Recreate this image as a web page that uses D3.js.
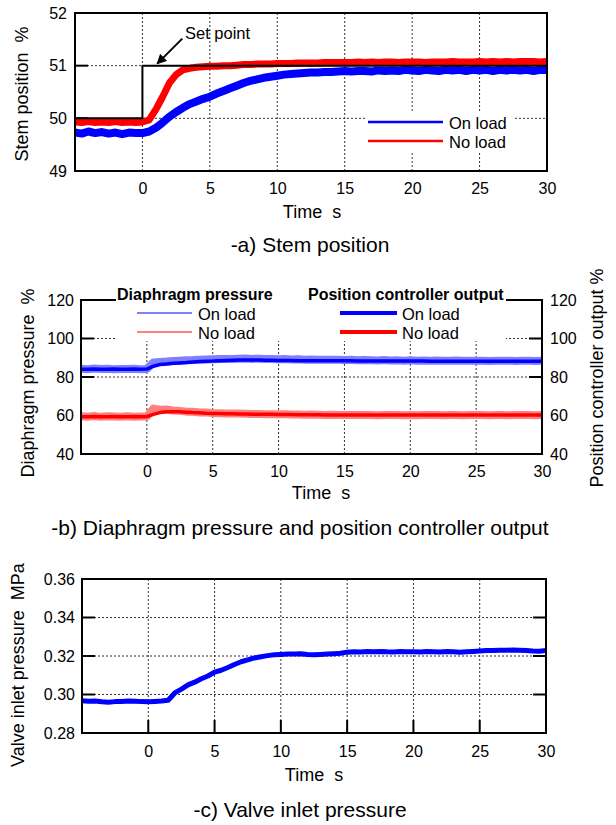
<!DOCTYPE html>
<html><head><meta charset="utf-8">
<script src="https://cdn.jsdelivr.net/npm/d3@7"></script>
<style>
body{margin:0;background:#fff}
svg text{font-family:"Liberation Sans",Arial,sans-serif;fill:#000}
</style>
</head><body><svg id="c" width="616" height="825"></svg>
<script>
// ---------- DATA ----------
const time = [-5,-4.5,-4,-3.5,-3,-2.5,-2,-1.5,-1,-0.5,
  0,0.5,1,1.5,2,2.5,3,3.5,4,4.5,
  5,5.5,6,6.5,7,7.5,8,8.5,9,9.5,
  10,10.5,11,11.5,12,12.5,13,13.5,14,14.5,
  15,15.5,16,16.5,17,17.5,18,18.5,19,19.5,
  20,20.5,21,21.5,22,22.5,23,23.5,24,24.5,
  25,25.5,26,26.5,27,27.5,28,28.5,29,29.5,30];
const xTicks = [0,5,10,15,20,25,30];

// (a) Stem position %
const stemTicks = [49,50,51,52];
const stemOnLoad = [49.73,49.71,49.75,49.72,49.74,49.71,49.73,49.70,49.73,49.72,
  49.72,49.75,49.82,49.92,50.03,50.12,50.20,50.27,50.32,50.37,
  50.41,50.47,50.52,50.57,50.62,50.67,50.71,50.74,50.77,50.79,
  50.81,50.83,50.84,50.85,50.86,50.87,50.87,50.88,50.88,50.89,
  50.90,50.89,50.90,50.90,50.89,50.91,50.90,50.91,50.90,50.92,
  50.91,50.90,50.92,50.91,50.90,50.92,50.91,50.92,50.90,50.92,
  50.91,50.92,50.90,50.92,50.91,50.92,50.91,50.92,50.90,50.92,50.92];
const stemNoLoad = [49.93,49.92,49.94,49.92,49.93,49.92,49.94,49.92,49.93,49.92,
  49.93,49.97,50.17,50.41,50.67,50.83,50.92,50.95,50.97,50.98,
  50.99,50.99,51.00,51.00,51.01,51.02,51.02,51.03,51.03,51.03,
  51.04,51.04,51.04,51.05,51.05,51.05,51.05,51.06,51.06,51.06,
  51.06,51.06,51.07,51.06,51.07,51.06,51.07,51.07,51.06,51.07,
  51.07,51.07,51.06,51.07,51.07,51.07,51.08,51.07,51.07,51.07,
  51.08,51.07,51.08,51.07,51.08,51.07,51.08,51.08,51.08,51.07,51.08];
const setPointTime = [-5,0,0,30];
const setPointValue = [50,50,51,51];

// (b) Diaphragm pressure / position controller output %
const pressTicks = [40,60,80,100,120];
const diaOnLoad = [84.3,84.0,84.4,84.1,84.3,84.0,84.2,84.1,84.3,84.0,
  84.2,87.6,87.8,88.0,88.3,88.5,88.7,88.8,89.0,89.1,
  89.2,89.3,89.4,89.4,89.5,89.6,89.4,89.5,89.3,89.4,
  89.2,89.3,89.1,89.2,89.0,89.1,89.0,88.9,89.0,88.9,
  88.8,88.9,88.7,88.8,88.7,88.6,88.8,88.6,88.7,88.5,
  88.7,88.5,88.6,88.4,88.6,88.5,88.4,88.6,88.4,88.5,
  88.4,88.5,88.3,88.5,88.4,88.5,88.3,88.4,88.5,88.3,88.4];
const ctrlOnLoad = [84.0,84.0,84.1,84.0,84.0,84.1,84.0,84.0,84.1,84.0,
  84.1,85.6,86.5,86.8,87.1,87.3,87.5,87.8,88.0,88.2,
  88.3,88.5,88.6,88.7,88.8,88.8,88.8,88.8,88.7,88.7,
  88.6,88.6,88.6,88.5,88.5,88.5,88.5,88.4,88.4,88.4,
  88.4,88.4,88.3,88.3,88.3,88.3,88.3,88.3,88.3,88.3,
  88.3,88.3,88.3,88.2,88.2,88.2,88.2,88.2,88.2,88.2,
  88.2,88.2,88.2,88.2,88.2,88.2,88.2,88.2,88.2,88.2,88.2];
const diaNoLoad = [59.6,59.4,59.7,59.3,59.6,59.5,59.3,59.6,59.4,59.5,
  59.5,63.6,63.0,63.1,62.6,62.4,62.0,61.9,61.6,61.5,
  61.3,61.2,61.1,61.0,61.0,60.9,60.8,60.8,60.7,60.7,
  60.6,60.6,60.5,60.5,60.4,60.5,60.4,60.3,60.4,60.3,
  60.3,60.2,60.3,60.2,60.3,60.1,60.3,60.2,60.2,60.1,
  60.3,60.1,60.2,60.2,60.3,60.1,60.2,60.3,60.1,60.2,
  60.2,60.3,60.1,60.2,60.3,60.1,60.2,60.2,60.3,60.1,60.2];
const ctrlNoLoad = [59.4,59.4,59.5,59.4,59.4,59.5,59.4,59.4,59.5,59.4,
  59.5,60.6,61.5,61.9,62.0,61.9,61.7,61.5,61.4,61.2,
  61.1,61.0,60.9,60.9,60.8,60.8,60.7,60.7,60.6,60.6,
  60.5,60.5,60.5,60.4,60.4,60.4,60.4,60.3,60.3,60.3,
  60.3,60.3,60.2,60.2,60.2,60.2,60.2,60.2,60.2,60.2,
  60.2,60.2,60.2,60.2,60.2,60.2,60.2,60.2,60.2,60.2,
  60.2,60.2,60.2,60.2,60.2,60.2,60.2,60.2,60.2,60.2,60.2];

// (c) Valve inlet pressure MPa
const inletTicks = [0.28,0.30,0.32,0.34,0.36];
const inletPressure = [0.2968,0.2965,0.2966,0.2962,0.2960,0.2963,0.2964,0.2966,0.2965,0.2963,
  0.2962,0.2964,0.2966,0.2970,0.3008,0.3028,0.3050,0.3064,0.3082,0.3096,
  0.3116,0.3126,0.3140,0.3156,0.3170,0.3180,0.3190,0.3196,0.3202,0.3206,
  0.3208,0.3210,0.3210,0.3212,0.3208,0.3206,0.3208,0.3210,0.3212,0.3214,
  0.3220,0.3222,0.3221,0.3223,0.3222,0.3224,0.3222,0.3221,0.3223,0.3222,
  0.3222,0.3221,0.3223,0.3222,0.3221,0.3223,0.3222,0.3220,0.3222,0.3224,
  0.3226,0.3228,0.3229,0.3230,0.3230,0.3231,0.3230,0.3228,0.3226,0.3225,0.3228];

// ---------- DRAWING ----------
const svg = d3.select("#c");
const BLUE = "#0000ff", RED = "#ff0000", LBLUE = "#8080ff", LRED = "#ff8080";
const TICKFS = 16, TITLEFS = 18, CAPFS = 21, LEGFS = 16.5;

const defs = svg.append("defs");
defs.append("marker").attr("id","arr").attr("viewBox","0 0 10 10")
  .attr("refX",9).attr("refY",5).attr("markerWidth",5).attr("markerHeight",5)
  .attr("orient","auto").attr("markerUnits","strokeWidth")
  .append("path").attr("d","M0,0L10,5L0,10z").attr("fill","#000");

function clip(id, x, y){
  defs.append("clipPath").attr("id",id).append("rect")
    .attr("x",x.range()[0]).attr("y",y.range()[1])
    .attr("width",x.range()[1]-x.range()[0]).attr("height",y.range()[0]-y.range()[1]);
}
function gridV(g, x, vals, y0, y1){
  g.selectAll(null).data(vals).join("line")
    .attr("x1",d=>x(d)).attr("x2",d=>x(d)).attr("y1",y0).attr("y2",y1)
    .attr("stroke","#333").attr("stroke-width",1).attr("stroke-dasharray","2,2");
}
function gridH(g, y, vals, x0, x1){
  g.selectAll(null).data(vals).join("line")
    .attr("y1",d=>y(d)).attr("y2",d=>y(d)).attr("x1",x0).attr("x2",x1)
    .attr("stroke","#333").attr("stroke-width",1).attr("stroke-dasharray","2,2");
}
function ticksY(g, y, vals, xEdge, dir){
  g.selectAll(null).data(vals).join("line")
    .attr("y1",d=>y(d)).attr("y2",d=>y(d)).attr("x1",xEdge).attr("x2",xEdge+dir*13)
    .attr("stroke","#000").attr("stroke-width",2);
}
function ticksX(g, x, vals, yEdge){
  g.selectAll(null).data(vals).join("line")
    .attr("x1",d=>x(d)).attr("x2",d=>x(d)).attr("y1",yEdge).attr("y2",yEdge-13)
    .attr("stroke","#000").attr("stroke-width",2);
}
function box(g, x, y){
  g.append("rect").attr("x",x.range()[0]).attr("y",y.range()[1])
    .attr("width",x.range()[1]-x.range()[0]).attr("height",y.range()[0]-y.range()[1])
    .attr("fill","none").attr("stroke","#000").attr("stroke-width",2);
}
function axisLabels(g, x, y, yTickVals, fmt, xPad, yPad){
  const ax = g.append("g").attr("transform",`translate(0,${y.range()[0]})`)
    .call(d3.axisBottom(x).tickValues(xTicks).tickSize(0).tickPadding(xPad));
  ax.select(".domain").remove();
  ax.selectAll("text").attr("font-size",TICKFS).attr("font-family",null);
  const ay = g.append("g").attr("transform",`translate(${x.range()[0]},0)`)
    .call(d3.axisLeft(y).tickValues(yTickVals).tickFormat(fmt).tickSize(0).tickPadding(yPad));
  ay.select(".domain").remove();
  ay.selectAll("text").attr("font-size",TICKFS).attr("font-family",null);
}
function series(g, x, y, vals, color, w, clipId, tArr){
  const ts = tArr || time;
  const line = d3.line().x((d,i)=>x(ts[i])).y(d=>y(d));
  g.append("path").datum(vals).attr("d",line).attr("fill","none")
    .attr("stroke",color).attr("stroke-width",w).attr("stroke-linejoin","round")
    .attr("clip-path",`url(#${clipId})`);
}
function txt(g, x, y, s, opts={}){
  const t = g.append("text").attr("x",x).attr("y",y).text(s)
    .attr("font-size",opts.fs||TICKFS).style("white-space","pre");
  if(opts.anchor) t.attr("text-anchor",opts.anchor);
  if(opts.bold) t.attr("font-weight","bold");
  if(opts.rot) t.attr("transform",`rotate(-90,${x},${y})`).attr("text-anchor","middle").attr("dominant-baseline","central");
  if(opts.mid) t.attr("dominant-baseline","central");
  return t;
}

// ===== Panel a =====
{
  const g = svg.append("g");
  const x = d3.scaleLinear().domain([-5,30]).range([75,547]);
  const y = d3.scaleLinear().domain([49,52]).range([171,13]);
  clip("ca",x,y);
  gridV(g,x,xTicks.slice(0,6),y.range()[1],y.range()[0]);
  gridH(g,y,[50,51],x.range()[0],x.range()[1]);
  ticksY(g,y,[50,51],x.range()[0],1);
  g.append("rect").attr("x",366).attr("y",111).attr("width",149).attr("height",40).attr("fill","#fff");
  series(g,x,y,stemOnLoad,BLUE,8,"ca");
  series(g,x,y,stemNoLoad,RED,7,"ca");
  series(g,x,y,setPointValue,"#000",2,"ca",setPointTime);
  box(g,x,y);
  axisLabels(g,x,y,stemTicks,d3.format("d"),12,8);
  g.append("line").attr("x1",x(1.1)+25).attr("y1",y(51)-27).attr("x2",x(1.1)).attr("y2",y(51)-2)
    .attr("stroke","#000").attr("stroke-width",2).attr("marker-end","url(#arr)");
  txt(g,185,39,"Set point",{fs:LEGFS});
  const leg = [["On load",BLUE],["No load",RED]];
  leg.forEach((d,i)=>{
    const yy = 122 + i*19;
    g.append("line").attr("x1",368).attr("x2",443).attr("y1",yy).attr("y2",yy).attr("stroke",d[1]).attr("stroke-width",2.5);
    txt(g,449,yy+1,d[0],{fs:LEGFS,mid:true});
  });
  txt(g,312,218,"Time  s",{fs:TITLEFS,anchor:"middle"});
  txt(g,22,94,"Stem position  %",{fs:TITLEFS,rot:true});
  txt(g,310,252,"-a) Stem position",{fs:CAPFS,anchor:"middle"});
}

// ===== Panel b =====
{
  const g = svg.append("g");
  const x = d3.scaleLinear().domain([-5,30]).range([81,542]);
  const y = d3.scaleLinear().domain([40,120]).range([454,300]);
  clip("cb",x,y);
  gridV(g,x,xTicks.slice(0,6),y.range()[1],y.range()[0]);
  gridH(g,y,[80,100],x.range()[0],x.range()[1]);
  ticksY(g,y,[60,80,100],x.range()[0],1);
  ticksY(g,y,[60,80,100],x.range()[1],-1);
  series(g,x,y,diaOnLoad,LBLUE,8,"cb");
  series(g,x,y,diaNoLoad,LRED,8,"cb");
  series(g,x,y,ctrlOnLoad,BLUE,3.5,"cb");
  series(g,x,y,ctrlNoLoad,RED,3.5,"cb");
  box(g,x,y);
  g.append("rect").attr("x",116).attr("y",284).attr("width",390).attr("height",57).attr("fill","#fff");
  axisLabels(g,x,y,pressTicks,d3.format("d"),12,7);
  const ar = g.append("g").attr("transform",`translate(${x.range()[1]},0)`)
    .call(d3.axisRight(y).tickValues(pressTicks).tickSize(0).tickPadding(8));
  ar.select(".domain").remove();
  ar.selectAll("text").attr("font-size",TICKFS).attr("font-family",null);
  txt(g,117,300,"Diaphragm pressure",{fs:16,bold:true});
  txt(g,308,300,"Position controller output",{fs:16,bold:true});
  const legL = [["On load",LBLUE],["No load",LRED]];
  legL.forEach((d,i)=>{
    const yy = 313 + i*19;
    g.append("line").attr("x1",137).attr("x2",192).attr("y1",yy).attr("y2",yy).attr("stroke",d[1]).attr("stroke-width",2);
    txt(g,198,yy+1,d[0],{fs:LEGFS,mid:true});
  });
  const legR = [["On load",BLUE],["No load",RED]];
  legR.forEach((d,i)=>{
    const yy = 313 + i*19;
    g.append("line").attr("x1",340).attr("x2",397).attr("y1",yy).attr("y2",yy).attr("stroke",d[1]).attr("stroke-width",4);
    txt(g,402,yy+1,d[0],{fs:LEGFS,mid:true});
  });
  txt(g,321,499,"Time  s",{fs:TITLEFS,anchor:"middle"});
  txt(g,28,383,"Diaphragm pressure  %",{fs:TITLEFS,rot:true});
  txt(g,597,378,"Position controller output %",{fs:TITLEFS,rot:true});
  txt(g,300,535,"-b) Diaphragm pressure and position controller output",{fs:CAPFS,anchor:"middle"});
}

// ===== Panel c =====
{
  const g = svg.append("g");
  const x = d3.scaleLinear().domain([-5,30]).range([82,546]);
  const y = d3.scaleLinear().domain([0.28,0.36]).range([733,579]);
  clip("cc",x,y);
  gridV(g,x,xTicks.slice(0,6),y.range()[1],y.range()[0]);
  gridH(g,y,[0.30,0.32,0.34],x.range()[0],x.range()[1]);
  ticksY(g,y,[0.30,0.32,0.34],x.range()[0],1);
  ticksY(g,y,[0.30,0.32,0.34],x.range()[1],-1);
  ticksX(g,x,xTicks.slice(0,6),y.range()[0]);
  series(g,x,y,inletPressure,BLUE,5,"cc");
  box(g,x,y);
  axisLabels(g,x,y,inletTicks,d3.format(".2f"),13,7);
  txt(g,314,781,"Time  s",{fs:TITLEFS,anchor:"middle"});
  txt(g,18,665,"Valve inlet pressure  MPa",{fs:TITLEFS,rot:true});
  txt(g,300,817,"-c) Valve inlet pressure",{fs:CAPFS,anchor:"middle"});
}
</script>
</body></html>
